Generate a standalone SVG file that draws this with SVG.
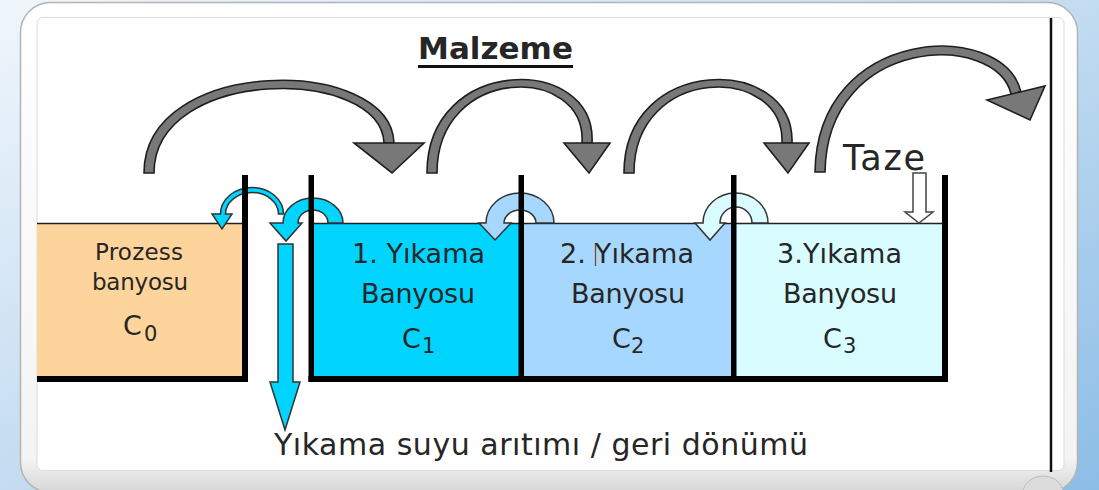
<svg xmlns="http://www.w3.org/2000/svg" width="1099" height="490" viewBox="0 0 1099 490">
<style>
.t{font-family:"DejaVu Sans","Verdana",sans-serif;fill:#262626}
.lbl{font-size:27px;text-anchor:middle}
.c{font-size:27px}
.sub{font-size:21px}
.wall{fill:#000}
.blue{stroke:#333;stroke-width:1.5;stroke-linejoin:miter}
.gray{fill:#787878;stroke:#1e1e1e;stroke-width:1.6;stroke-linejoin:miter}
.water{stroke:#222;stroke-width:1.5}
</style>
<defs>
<linearGradient id="bg" x1="0" y1="0" x2="1" y2="1">
<stop offset="0" stop-color="#f0f6fc"/>
<stop offset="0.5" stop-color="#c3dcf1"/>
<stop offset="1" stop-color="#8cbde6"/>
</linearGradient>
<linearGradient id="fr" x1="0" y1="0" x2="0" y2="1">
<stop offset="0" stop-color="#ffffff"/>
<stop offset="0.93" stop-color="#f4f4f4"/>
<stop offset="1" stop-color="#d6d6d6"/>
</linearGradient>
</defs>
<g id="background">
<rect x="0" y="0" width="1099" height="490" fill="url(#bg)"/>
<rect x="20.5" y="2.5" width="1057" height="490" rx="30" fill="url(#fr)" stroke="#b4b4b4" stroke-width="1.5"/>
<rect x="37" y="17.5" width="1027" height="453" rx="6" fill="#fff" stroke="#dcdcdc" stroke-width="1"/>
<ellipse cx="1043" cy="493" rx="20" ry="17" fill="#dcdcdc" stroke="#bcbcbc"/>
<line x1="1051" y1="18" x2="1051" y2="472" stroke="#111" stroke-width="2.5"/>
</g>
<g id="title">
<text class="t" x="418" y="59" font-size="31" font-weight="bold" textLength="155" lengthAdjust="spacingAndGlyphs" fill="#111">Malzeme</text>
<rect x="418" y="65" width="155" height="3" fill="#111"/>
</g>
<g id="tank0">
<rect x="37" y="223" width="207" height="155" fill="#fdd49c"/>
<line class="water" x1="37" y1="223.5" x2="244" y2="223.5"/>
<text class="t" x="139" y="260" font-size="23" text-anchor="middle" textLength="88" fill="#3c3c3c">Prozess</text>
<text class="t" x="140" y="290" font-size="23" text-anchor="middle" textLength="96" fill="#3c3c3c">banyosu</text>
<text class="t c" x="123" y="335">C</text><text class="t sub" x="144" y="341">0</text>
</g>
<g id="tank1">
<rect x="311" y="223" width="211" height="155" fill="#00d4ff"/>
<text class="t lbl" x="418.5" y="263" textLength="133">1. Yıkama</text>
<text class="t lbl" x="418" y="303" textLength="114">Banyosu</text>
<text class="t c" x="402" y="348">C</text><text class="t sub" x="422" y="353">1</text>
</g>
<g id="tank2">
<rect x="521" y="223" width="213" height="155" fill="#a6d8ff"/>
<text class="t lbl" x="627" y="263" textLength="134">2. Yıkama</text>
<line x1="595.5" y1="244" x2="595.5" y2="266" stroke="#7a4a2a" stroke-width="1.3"/>
<text class="t lbl" x="628" y="303" textLength="114">Banyosu</text>
<text class="t c" x="612" y="348">C</text><text class="t sub" x="631" y="353">2</text>
</g>
<g id="tank3">
<rect x="734" y="223" width="212" height="155" fill="#d8fcff"/>
<text class="t lbl" x="839.5" y="263" textLength="125">3.Yıkama</text>
<text class="t lbl" x="840" y="303" textLength="114">Banyosu</text>
<text class="t c" x="823" y="348">C</text><text class="t sub" x="843" y="353">3</text>
</g>
<line class="water" x1="311" y1="223.5" x2="946" y2="223.5"/>
<g id="connectors">
<path class="gray" d="M144,173 C144,55 391,55 394,143 L384,143 C381,66 154,66 154,173 Z"/>
<polygon class="gray" points="354,143 424,143 392,173"/>
<path class="gray" d="M427,173 C427,54 597,54 592,143 L582,143 C587,64 437,64 437,173 Z"/>
<polygon class="gray" points="564,143 610,143 589,173"/>
<path class="gray" d="M624,173 C624,54 795,54 792,143 L782,143 C785,64 634,64 634,173 Z"/>
<polygon class="gray" points="764,143 809,143 788,173"/>
<path class="gray" d="M815,172 C817,25 1003,19 1020.7,91.3 L1011.3,94.7 C997,31 827,35 825,172 Z"/>
<polygon class="gray" points="987,100 1045,86 1030,120"/>
<path class="blue" fill="#00d4ff" d="M283.5,214 A31.5,26.5 0 0 0 220.5,214 L212,214 L222,229 L232,214 L225.5,214 A26.5,21.5 0 0 1 278.5,214 Z"/>
<path class="blue" fill="#00d4ff" d="M343,223 A30,25 0 0 0 283,223 L270,223 L286,241 L302,223 L298,223 A15,13 0 0 1 328,223 Z"/>
<path class="blue" fill="#a6d8ff" d="M554,223 A34,30 0 0 0 486,223 L479,223 L495,240 L511,223 L504,223 A16,13 0 0 1 536,223 Z"/>
<path class="blue" fill="#d8fcff" d="M768,223 A32.5,30 0 0 0 703,223 L695,223 L710,240 L725,223 L720,223 A16,16 0 0 1 752,223 Z"/>
<path class="blue" fill="#00d4ff" d="M278,244 L293,244 L293,382 L300,382 L285,430 L270,382 L278,382 Z"/>
<path fill="#fff" stroke="#444" stroke-width="1.5" d="M913,173 L926,173 L926,212 L933,212 L919,223 L905,212 L913,212 Z"/>
</g>
<g id="walls">
<rect class="wall" x="242" y="175" width="6" height="207"/>
<rect class="wall" x="308.5" y="175" width="5.5" height="207"/>
<rect class="wall" x="518.5" y="175" width="5.5" height="207"/>
<rect class="wall" x="731" y="175" width="5.5" height="207"/>
<rect class="wall" x="942" y="175" width="6" height="207"/>
<rect class="wall" x="37" y="376" width="211" height="6"/>
<rect class="wall" x="308.5" y="376" width="639.5" height="6"/>
</g>
<g id="labels">
<text class="t" x="843" y="170" font-size="35" textLength="82" fill="#333">Taze</text>
<text class="t" x="274" y="455" font-size="30" textLength="534" fill="#262626">Yıkama suyu arıtımı / geri dönümü</text>
</g>
</svg>
